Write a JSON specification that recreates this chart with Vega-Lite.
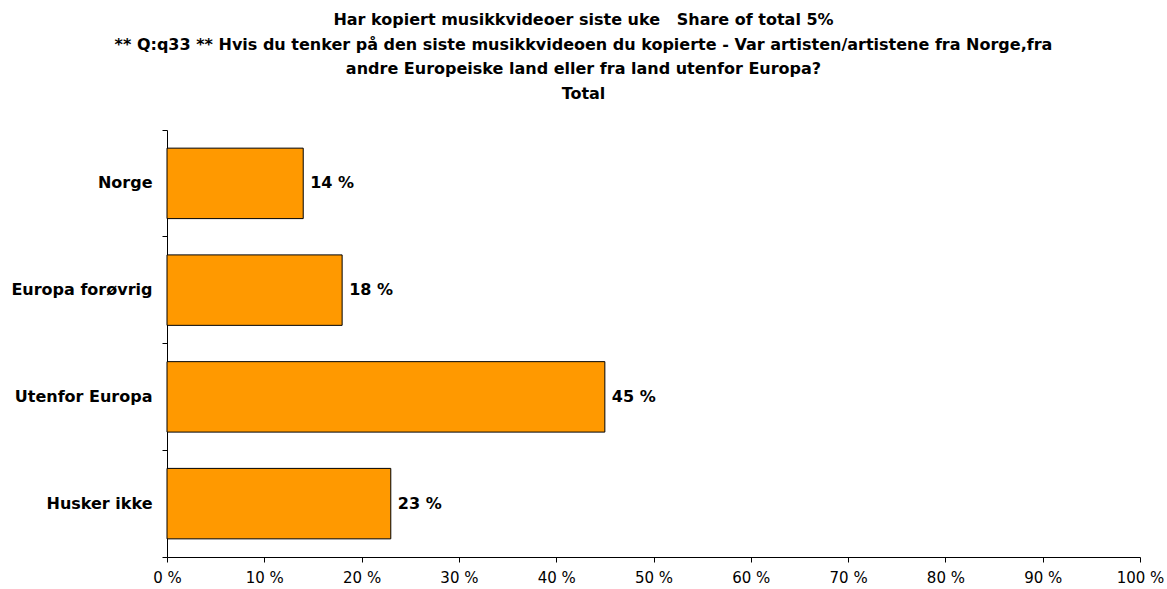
{
  "$schema": "https://vega.github.io/schema/vega-lite/v6.json",
  "autosize": "none",
  "width": 973,
  "height": 427,
  "padding": {"left": 167, "top": 130, "right": 27, "bottom": 32},
  "background": "white",
  "title": {
    "text": [
      "Har kopiert musikkvideoer siste uke\u00a0\u00a0\u00a0Share of total 5%",
      "** Q:q33 ** Hvis du tenker på den siste musikkvideoen du kopierte - Var artisten/artistene fra Norge,fra",
      "andre Europeiske land eller fra land utenfor Europa?",
      "Total"
    ],
    "font": "DejaVu Sans",
    "fontSize": 16,
    "fontWeight": "bold",
    "color": "black",
    "lineHeight": 24.7,
    "anchor": "middle",
    "dx": -70,
    "offset": 20
  },
  "data": {
    "values": [
      {"category": "Norge", "value": 14},
      {"category": "Europa forøvrig", "value": 18},
      {"category": "Utenfor Europa", "value": 45},
      {"category": "Husker ikke", "value": 23}
    ]
  },
  "transform": [{"calculate": "datum.value + ' %'", "as": "label"}],
  "encoding": {
    "y": {
      "field": "category",
      "type": "nominal",
      "sort": null,
      "scale": {"paddingInner": 0, "paddingOuter": 0},
      "axis": {
        "title": null,
        "labelFont": "DejaVu Sans",
        "labelFontSize": 16,
        "labelFontWeight": "bold",
        "labelColor": "black",
        "labelPadding": 10,
        "domainColor": "black",
        "tickColor": "black",
        "tickSize": 5,
        "bandPosition": 1,
        "tickExtra": true
      }
    },
    "x": {
      "field": "value",
      "type": "quantitative",
      "scale": {"domain": [0, 100], "nice": false},
      "axis": {
        "title": null,
        "values": [0, 10, 20, 30, 40, 50, 60, 70, 80, 90, 100],
        "labelExpr": "datum.value + ' %'",
        "labelFont": "DejaVu Sans",
        "labelFontSize": 15,
        "labelColor": "black",
        "labelPadding": 8,
        "labelFlush": false,
        "labelOverlap": false,
        "grid": false,
        "domainColor": "black",
        "tickColor": "black",
        "tickSize": 5
      }
    }
  },
  "layer": [
    {
      "mark": {"type": "bar", "color": "#FF9900", "stroke": "black", "strokeWidth": 1, "height": {"band": 0.66}}
    },
    {
      "mark": {"type": "text", "align": "left", "baseline": "middle", "dx": 7, "font": "DejaVu Sans", "fontSize": 16, "fontWeight": "bold", "color": "black"},
      "encoding": {"text": {"field": "label", "type": "nominal"}}
    }
  ],
  "config": {"view": {"stroke": null}}
}
